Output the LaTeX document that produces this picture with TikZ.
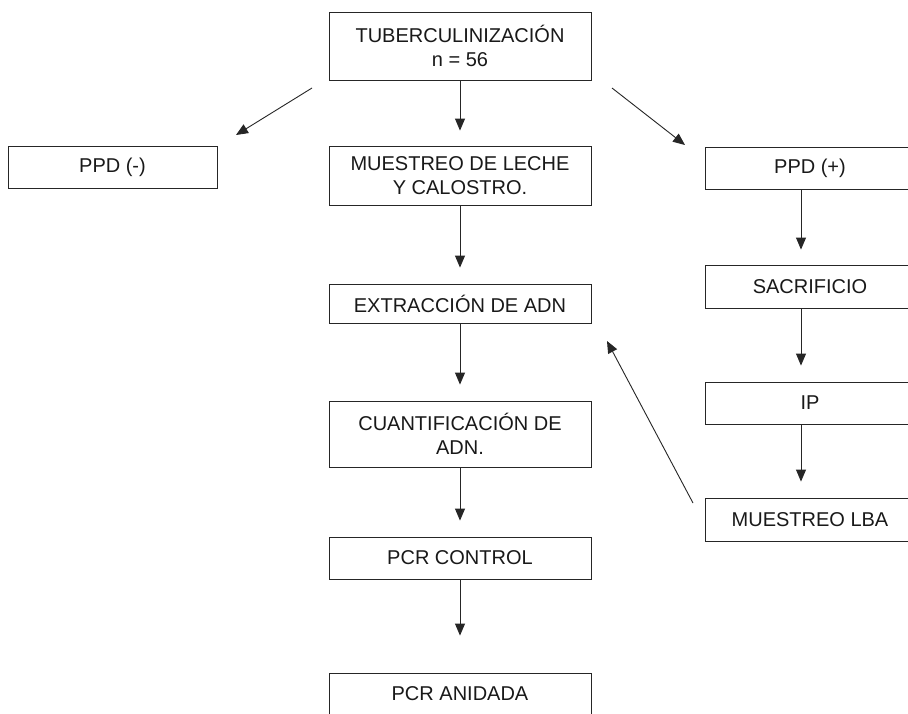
\documentclass[tikz,border=0pt]{standalone}
\usepackage{fontspec}
\setmainfont{Liberation Sans}
\usetikzlibrary{arrows.meta}
\begin{document}
\begin{tikzpicture}[x=1pt,y=-1pt,
  box/.style={draw=black!85, line width=0.9pt, rectangle, align=center,
    inner sep=0pt, font=\fontsize{20}{24.5}\selectfont, text=black!90},
  cbox/.style={box, minimum width=262pt},
  sbox/.style={box, minimum width=210pt},
  arr/.style={draw=black!85, line width=0.9pt, -{Triangle[length=12pt,width=10pt]}}]
\useasboundingbox (0,0) rectangle (908,713);
\fill[white] (0,0) rectangle (908,713);
% centre column
\node[cbox, minimum height=68pt] (tub) at (460,46) {TUBERCULINIZACIÓN\\n = 56};
\node[cbox, minimum height=59pt] (mue) at (460,175.5) {MUESTREO DE LECHE\\Y CALOSTRO.};
\node[cbox, minimum height=39pt] (ext) at (460,303.5) {EXTRACCIÓN DE ADN};
\node[cbox, minimum height=66pt] (cua) at (460,434) {CUANTIFICACIÓN DE\\ADN.};
\node[cbox, minimum height=42pt] (pcrc) at (460,558) {PCR CONTROL};
\node[cbox, minimum height=42pt] (pcra) at (460,694) {PCR ANIDADA};
% left
\node[sbox, minimum width=209pt, minimum height=42pt] (ppdm) at (112.5,167) {PPD (-)};
% right column
\node[sbox, minimum height=42pt] (ppdp) at (810,168) {PPD (+)};
\node[sbox, minimum height=43pt] (sac) at (810,286.5) {SACRIFICIO};
\node[sbox, minimum height=42pt] (ip) at (810,403) {IP};
\node[sbox, minimum height=43pt] (lba) at (810,519.5) {MUESTREO LBA};
% centre arrows
\draw[arr, shorten >=15pt] (tub.south) -- (mue.north);
\draw[arr, shorten >=16pt] (mue.south) -- (ext.north);
\draw[arr, shorten >=16pt] (ext.south) -- (cua.north);
\draw[arr, shorten >=16pt] (cua.south) -- (pcrc.north);
\draw[arr, shorten >=37pt] (pcrc.south) -- (pcra.north);
% right arrows
\draw[arr, shorten >=15pt] ([xshift=-9pt]ppdp.south) -- ([xshift=-9pt]sac.north);
\draw[arr, shorten >=16pt] ([xshift=-9pt]sac.south) -- ([xshift=-9pt]ip.north);
\draw[arr, shorten >=16pt] ([xshift=-9pt]ip.south) -- ([xshift=-9pt]lba.north);
% diagonal arrows
\coordinate (dl0) at (312,88);
\coordinate (dl1) at (236,135);
\coordinate (dr0) at (612,88);
\coordinate (dr1) at (685,145);
\coordinate (db0) at (693,503);
\coordinate (db1) at (607,341);
\draw[arr] (dl0) -- (dl1);
\draw[arr] (dr0) -- (dr1);
\draw[arr] (db0) -- (db1);
\end{tikzpicture}
\end{document}
